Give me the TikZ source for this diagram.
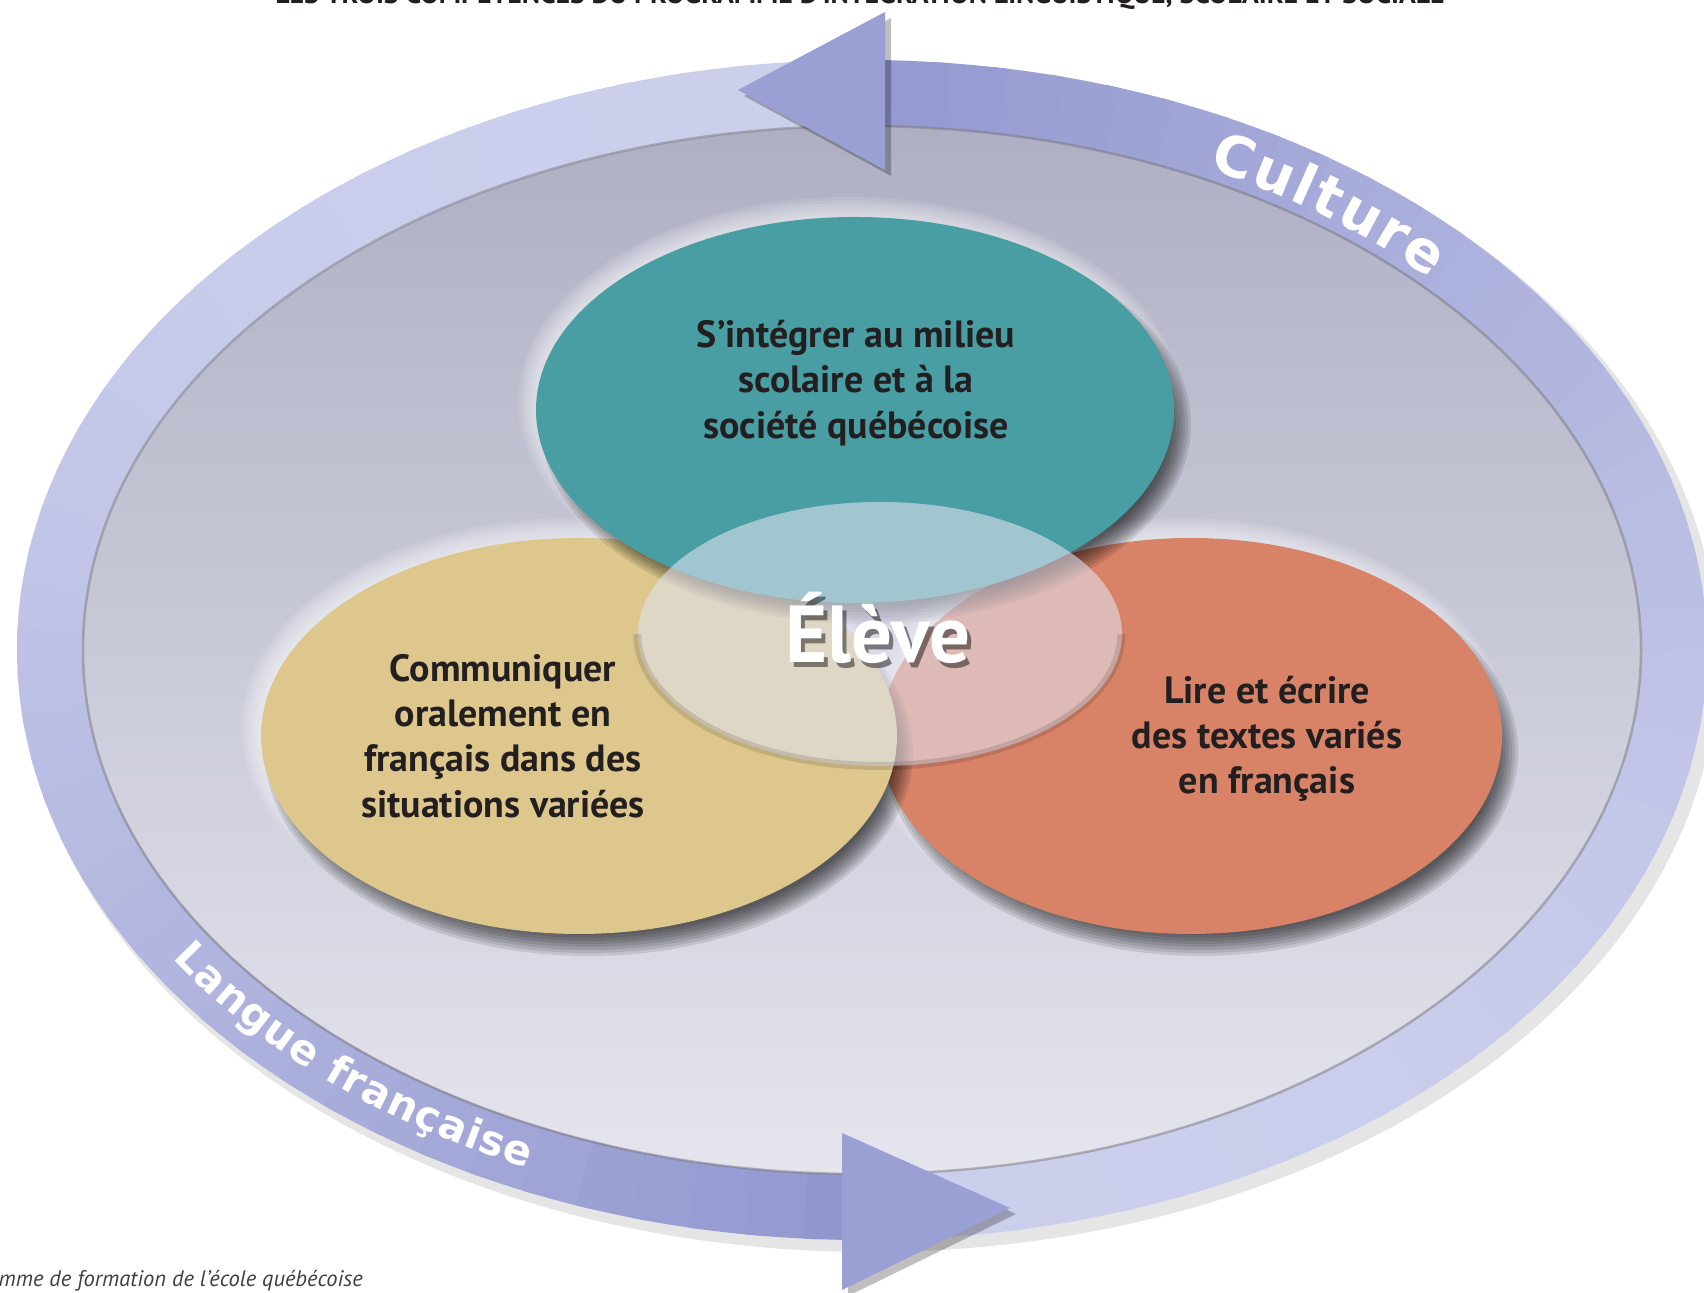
\documentclass[tikz,border=0pt]{standalone}
\usepackage{fontspec}
\setmainfont{PT Sans}
\newfontfamily\bandfont{DejaVu Sans}
\usetikzlibrary{shapes.geometric,decorations.text,positioning}

% colours picked from the figure
\definecolor{bandlight}{RGB}{204,207,236}
\definecolor{banddark}{RGB}{146,151,207}
\definecolor{headc}{RGB}{154,159,212}
\definecolor{innertop}{RGB}{174,175,195}
\definecolor{innerbot}{RGB}{228,229,237}
\definecolor{tealc}{RGB}{72,158,163}
\definecolor{yellowc}{RGB}{221,199,140}
\definecolor{orangec}{RGB}{216,131,104}
\definecolor{overlayc}{RGB}{226,227,240}
\definecolor{textc}{RGB}{35,31,32}

\newcommand\culturefont{\bandfont\bfseries\fontsize{16}{16}\selectfont}
\newcommand\languefont{\bandfont\bfseries\fontsize{11.8}{12}\selectfont}

% blurred shadow / glow under an oval: centre x, centre y, x radius, y radius, colour, opacity
\newcommand\softblur[6]{%
  \foreach \k in {0,...,7}
    \fill[#5, opacity=#6] (#1,#2) ellipse[x radius=#3+12-3*\k, y radius=#4+12-3*\k];}

\begin{document}
\begin{tikzpicture}[%
    x=0.1mm, y=0.1mm,            % one unit = one pixel of the figure
    ]
% -------------------------------------------------
% A few styles
\tikzset{
  band/.style={line width=6.6mm},
  oval/.style={ellipse, inner sep=0pt},
  lbl/.style={align=center, text=textc, font=\bfseries\fontsize{10.8}{12.9}\selectfont},
  eleve/.style={font=\bfseries\fontsize{23}{23}\selectfont},
  shd/.style={black, opacity=0.18}
}
\clip (0,0) rectangle (1704,1293);
\fill[white] (0,0) rectangle (1704,1293);

% -------------------------------------------------
% The ring with its two arrows
\draw[band, line width=7.2mm, shd, opacity=0.10] (870,634) ellipse[x radius=812, y radius=557];
\shade[top color=innertop, bottom color=innerbot] (862,643) ellipse[x radius=780, y radius=525];

% right-hand arrow, light at its tail, dark at its head
\foreach \a in {-92,-88,...,88} {
  \pgfmathtruncatemacro\m{100*((\a+92)/180)*((\a+92)/180)}
  \draw[band, draw=banddark!\m!bandlight, shift={(862,643)}]
    (\a:812 and 557) arc[start angle=\a, end angle=\a+5, x radius=812, y radius=557];
}
% left-hand arrow
\foreach \a in {90,94,...,266} {
  \pgfmathtruncatemacro\m{100*((\a-90)/176)*((\a-90)/176)}
  \draw[band, draw=banddark!\m!bandlight, shift={(862,643)}]
    (\a:812 and 557) arc[start angle=\a, end angle=\a+5, x radius=812, y radius=557];
}
\draw[black!55, opacity=0.45, line width=0.25mm] (862,643) ellipse[x radius=779, y radius=524];

% arrow heads
\fill[shd, opacity=0.25] (891,1275) -- (744,1197) -- (891,1117) -- cycle;
\fill[headc] (885,1281) -- (738,1203) -- (885,1123) -- cycle;   % top, going left
\fill[shd, opacity=0.25] (848,154) -- (1016,79) -- (848,-3) -- cycle;
\fill[headc] (842,160) -- (1010,85) -- (842,3) -- cycle;        % bottom, going right

% words on the ring
\path[shift={(862,643)}, decorate, decoration={text along path, text align=fit to path,
    text color=white, text={|\culturefont|Culture}}]
  (64:790 and 535) arc[start angle=64, end angle=44, x radius=790, y radius=535];
\path[shift={(862,643)}, decorate, decoration={text along path, text align=fit to path,
    text color=white, text={|\languefont|Langue française}}]
  (213:822 and 567) arc[start angle=213, end angle=246, x radius=822, y radius=567];

% -------------------------------------------------
% The three competencies
\softblur{1183}{565}{311}{198}{white}{0.10}
\softblur{571}{565}{318}{198}{white}{0.10}
\softblur{849}{891}{319}{193}{white}{0.10}

\softblur{1201}{541}{305}{192}{black}{0.10}
\node[oval, fill=orangec, minimum width=62.2mm, minimum height=39.6mm] (lire) at (1191,557) {};
\softblur{589}{541}{312}{192}{black}{0.10}
\node[oval, fill=yellowc, minimum width=63.6mm, minimum height=39.6mm] (oral) at (579,557) {};
\softblur{866}{868}{313}{187}{black}{0.10}
\node[oval, fill=tealc, minimum width=63.8mm, minimum height=38.6mm] (integ) at (855,883) {};

\node[oval, fill=overlayc, fill opacity=0.58, minimum width=48.4mm, minimum height=26.4mm] (centre) at (880,659) {};
\draw[black, opacity=0.12, line width=0.8mm] (centre.west) arc[start angle=180, end angle=360, x radius=242, y radius=132];

\node[lbl] (integtxt) at (856,910) {S’intégrer au milieu\\scolaire et à la\\société québécoise};
\node[lbl] (oraltxt) at (503,557) {Communiquer\\oralement en\\français dans des\\situations variées};
\node[lbl] (liretxt) at (1267,554) {Lire et écrire\\des textes variés\\en français};

\node[eleve, text=black, opacity=0.45] (eleveshd) at (882,660) {Élève};
\node[eleve, text=white] (eleve) at (878,665) {Élève};

% -------------------------------------------------
% Title and source, both cut by the page edge
\node[anchor=base, inner sep=0pt, text=textc, font=\bfseries\fontsize{7.9}{8}\selectfont]
  (titre) at (860,1289) {LES TROIS COMPÉTENCES DU PROGRAMME D’INTÉGRATION LINGUISTIQUE, SCOLAIRE ET SOCIALE};
\node[anchor=base west, inner sep=0pt, text=black!75, font=\itshape\fontsize{6.4}{7}\selectfont]
  (source) at (-2,6) {mme de formation de l’école québécoise};
\end{tikzpicture}
\end{document}
